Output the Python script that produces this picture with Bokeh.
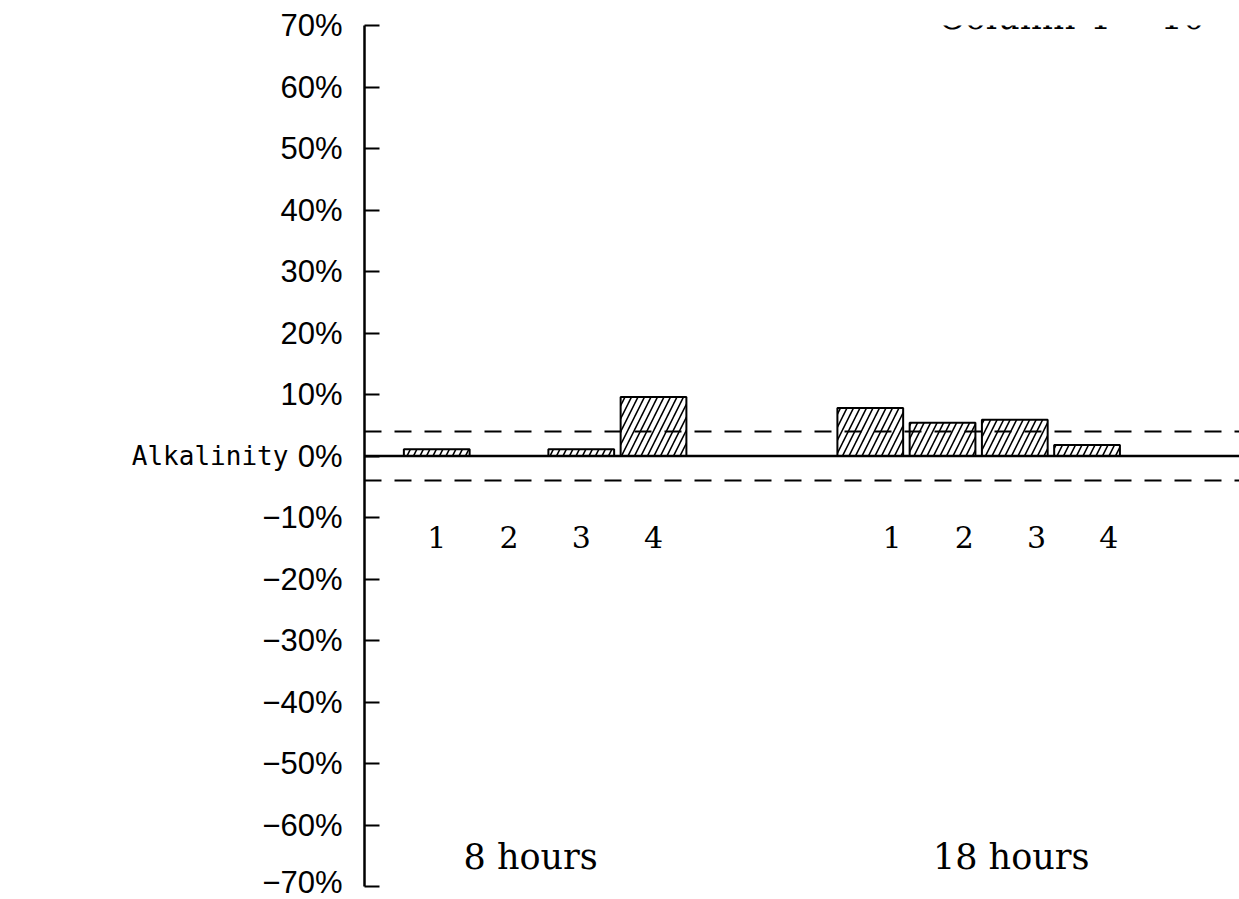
from bokeh.plotting import figure
from bokeh.models import FixedTicker, CustomJSTickFormatter, Span, Label, ColumnDataSource
from bokeh.core.properties import value
from bokeh.embed import file_html
from bokeh.resources import INLINE

# ---- data ----
columns = ["1", "2", "3", "4"]
groups = ["8 hours", "18 hours"]
change_8h = [1.1, 0.0, 1.1, 9.6]
change_18h = [7.8, 5.4, 5.9, 1.8]
limit = 4.0
y_ticks = list(range(-70, 71, 10))
title_text = "Column 4 =  10"
y_label = "Alkalinity"

# ---- layout constants ----
group_start = [1, 7]
label_shift = [0.0, 0.3]
group_label_x = [2.3, 8.95]
serif = "DejaVu Serif"

p = figure(width=1239, height=899, output_backend="svg", toolbar_location=None,
           x_range=(0, 12.11), y_range=(-70, 70), x_axis_location=None,
           min_border_left=364, min_border_right=0, min_border_top=25, min_border_bottom=13)
p.outline_line_color = None
p.grid.visible = False
p.background_fill_color = "white"
p.border_fill_color = "white"

# bars
xs, tops, lx, ltxt = [], [], [], []
for g, vals in enumerate([change_8h, change_18h]):
    for i, v in enumerate(vals):
        xs.append(group_start[g] + i)
        tops.append(v)
        lx.append(group_start[g] + i + label_shift[g])
        ltxt.append(columns[i])
src = ColumnDataSource(dict(x=xs, top=tops))
p.vbar(x="x", top="top", bottom=0, width=0.91, source=src, fill_color="white",
       line_color="black", line_width=2, hatch_pattern="/", hatch_color="black",
       hatch_scale=13, hatch_weight=1.6)

# reference lines
p.add_layout(Span(location=0, dimension="width", line_color="black", line_width=2.5))
for s in (limit, -limit):
    p.add_layout(Span(location=s, dimension="width", line_color="black", line_width=2,
                      line_dash="17 13"))

# column numbers
p.text(x=lx, y=[-13.2] * len(lx), text=ltxt, text_font=value(serif),
       text_font_size="30px", text_align="center", text_baseline="middle", text_color="black")

# group labels
for gx, gt in zip(group_label_x, groups):
    p.add_layout(Label(x=gx, y=-65.2, text=gt, text_font=serif, text_font_size="35px",
                       text_align="center", text_baseline="middle", text_color="black"))

# title (cut off at the top, as in the original)
p.add_layout(Label(x=7.94, y=71.46, text=title_text, text_font=serif, text_font_size="35px",
                   text_align="left", text_baseline="alphabetic", text_color="black"))

# y axis
ax = p.yaxis[0]
ax.ticker = FixedTicker(ticks=y_ticks)
ax.formatter = CustomJSTickFormatter(code="return (tick < 0 ? '\u2212' : '') + Math.abs(tick) + '%';")
ax.major_tick_in = 15
ax.major_tick_out = 0
ax.minor_tick_in = 0
ax.minor_tick_out = 0
ax.major_tick_line_width = 2
ax.axis_line_width = 2.5
ax.major_label_standoff = 22
ax.major_label_text_font = "Liberation Sans"
ax.major_label_text_font_size = "31px"
ax.major_label_text_color = "black"
ax.axis_label = y_label
ax.axis_label_orientation = "horizontal"
ax.axis_label_standoff = -29
ax.axis_label_text_font = "DejaVu Sans Mono"
ax.axis_label_text_font_style = "normal"
ax.axis_label_text_font_size = "26px"
ax.axis_label_text_color = "black"

open("out.html", "w").write(file_html(p, INLINE))
